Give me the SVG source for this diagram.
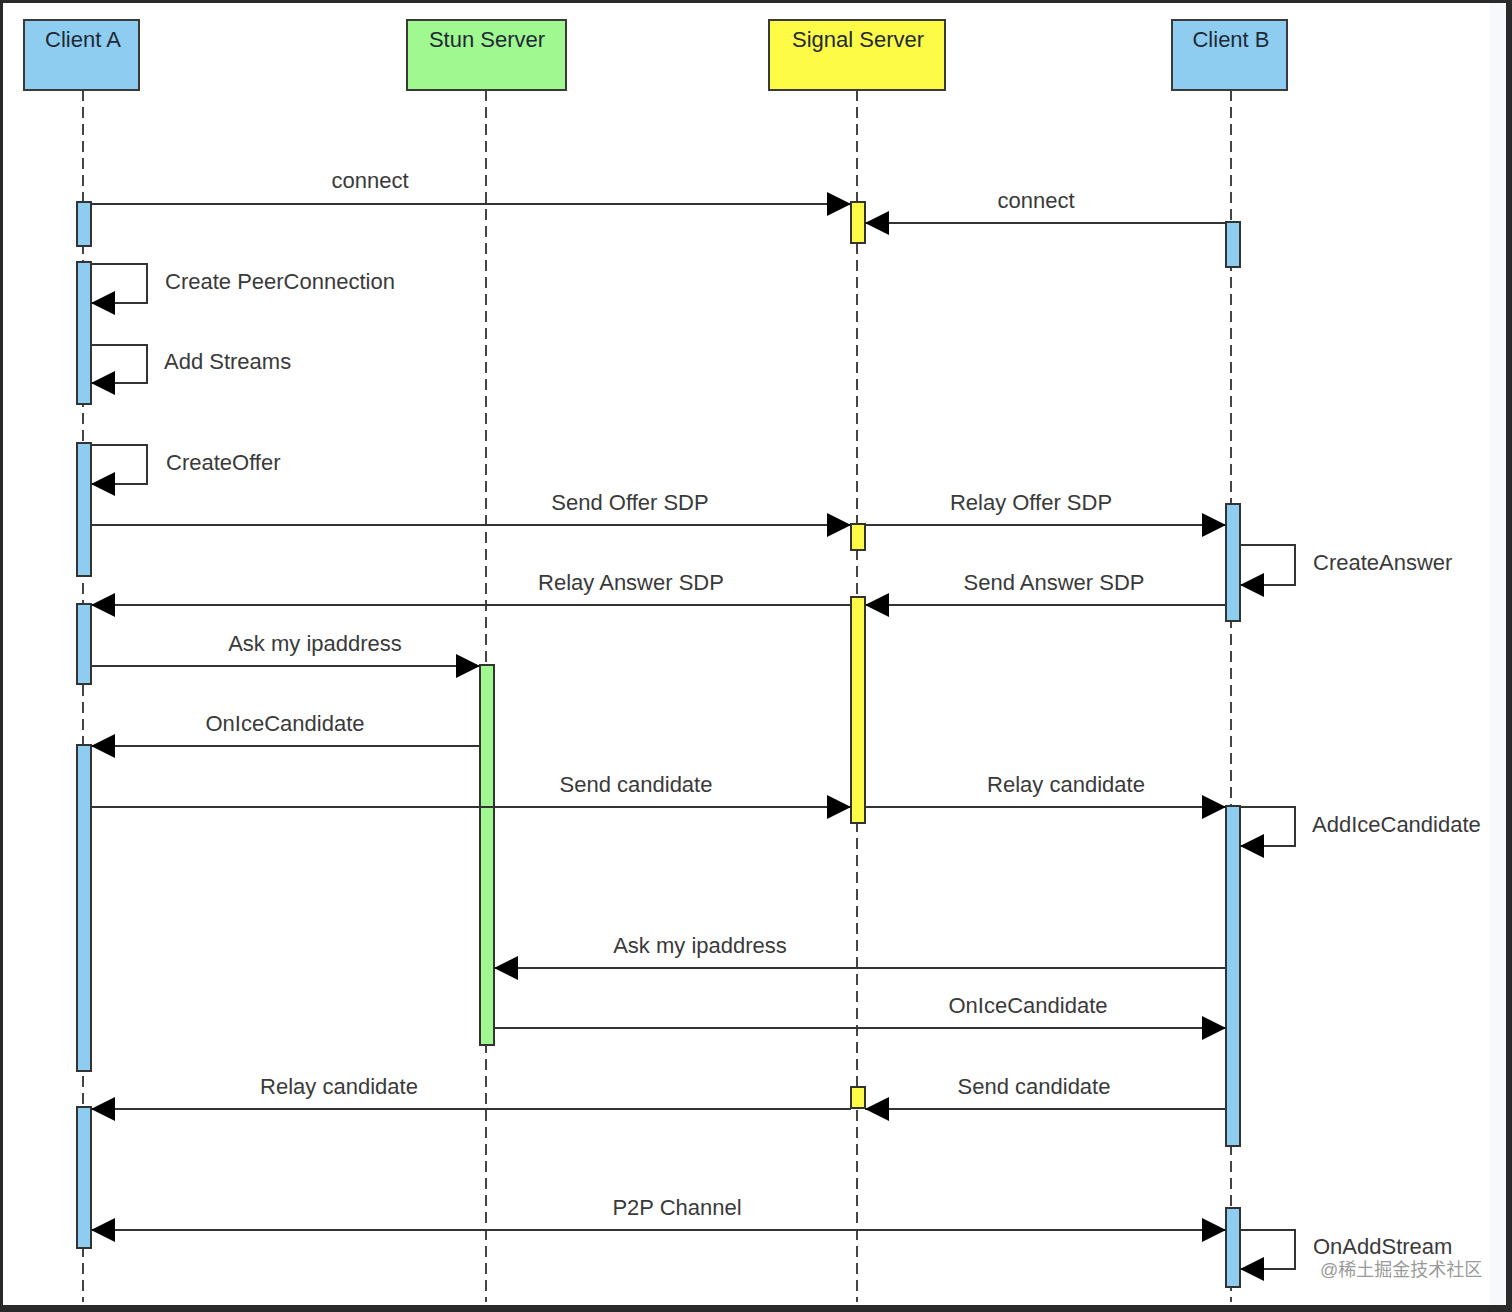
<svg xmlns="http://www.w3.org/2000/svg" width="1512" height="1312" viewBox="0 0 1512 1312">
<style>
.hdr{stroke:#3a3a3a;stroke-width:2}
.blue{fill:#8ecdf0}
.green{fill:#a0f890}
.yellow{fill:#fdfb45}
.bar{stroke:#333;stroke-width:2}
.life{stroke:#444;stroke-width:2;stroke-dasharray:11 6;fill:none}
.msg{stroke:#333;stroke-width:2;fill:none;marker-end:url(#ah)}
.ht{font-family:"Liberation Sans",Arial,sans-serif;font-size:22px;fill:#1f2a36;text-anchor:middle}
.lb{font-family:"Liberation Sans",Arial,sans-serif;font-size:22px;fill:#3a3a3a}
.c{text-anchor:middle}
.wm{font-family:"Liberation Sans","Noto Sans CJK SC",sans-serif;font-size:18px;fill:#9a9a9a}
</style>
<defs>
<marker id="ah" markerUnits="userSpaceOnUse" markerWidth="24" markerHeight="24" viewBox="0 0 24 24" refX="24" refY="12" orient="auto-start-reverse">
<path d="M0,0 L24,12 L0,24 z" fill="#000"/>
</marker>
</defs>
<rect x="0" y="0" width="1512" height="1312" fill="#2a2a2a"/>
<rect x="3" y="3" width="1503" height="1302" fill="#ffffff"/>
<rect x="1490" y="3" width="16" height="1302" fill="#f6f8fb"/>

<g id="lifelines">
<line class="life" x1="83" y1="90" x2="83" y2="1302"/>
<line class="life" x1="486" y1="90" x2="486" y2="1302"/>
<line class="life" x1="857" y1="90" x2="857" y2="1302"/>
<line class="life" x1="1231" y1="90" x2="1231" y2="1302"/>
</g>

<g id="client-a">
<rect class="hdr blue" x="24" y="20" width="115" height="70"/>
<text class="ht" x="83" y="47">Client A</text>
</g>
<g id="stun-server">
<rect class="hdr green" x="407" y="20" width="159" height="70"/>
<text class="ht" x="487" y="47">Stun Server</text>
</g>
<g id="signal-server">
<rect class="hdr yellow" x="769" y="20" width="176" height="70"/>
<text class="ht" x="858" y="47">Signal Server</text>
</g>
<g id="client-b">
<rect class="hdr blue" x="1172" y="20" width="115" height="70"/>
<text class="ht" x="1231" y="47">Client B</text>
</g>

<g id="activations">
<rect class="bar blue" x="77" y="202" width="14" height="44"/>
<rect class="bar blue" x="77" y="262" width="14" height="142"/>
<rect class="bar blue" x="77" y="443" width="14" height="133"/>
<rect class="bar blue" x="77" y="604" width="14" height="80"/>
<rect class="bar blue" x="77" y="745" width="14" height="326"/>
<rect class="bar blue" x="77" y="1107" width="14" height="141"/>
<rect class="bar green" x="480" y="665" width="14" height="380"/>
<rect class="bar yellow" x="851" y="202" width="14" height="41"/>
<rect class="bar yellow" x="851" y="524" width="14" height="26"/>
<rect class="bar yellow" x="851" y="597" width="14" height="226"/>
<rect class="bar yellow" x="851" y="1087" width="14" height="21"/>
<rect class="bar blue" x="1226" y="222" width="14" height="45"/>
<rect class="bar blue" x="1226" y="504" width="14" height="117"/>
<rect class="bar blue" x="1226" y="806" width="14" height="340"/>
<rect class="bar blue" x="1226" y="1208" width="14" height="79"/>
</g>

<g id="connectors">
<path class="msg" d="M91,204 H851"/>
<path class="msg" d="M1226,223 H865"/>
<path class="msg" d="M91,264 H147 V303 H91"/>
<path class="msg" d="M91,345 H147 V383 H91"/>
<path class="msg" d="M91,445 H147 V484 H91"/>
<path class="msg" d="M91,525 H851"/>
<path class="msg" d="M865,525 H1226"/>
<path class="msg" d="M1240,545 H1295 V585 H1240"/>
<path class="msg" d="M1226,605 H865"/>
<path class="msg" d="M851,605 H91"/>
<path class="msg" d="M91,666 H480"/>
<path class="msg" d="M480,746 H91"/>
<path class="msg" d="M91,807 H851"/>
<path class="msg" d="M865,807 H1226"/>
<path class="msg" d="M1240,807 H1295 V846 H1240"/>
<path class="msg" d="M1226,968 H494"/>
<path class="msg" d="M494,1028 H1226"/>
<path class="msg" d="M1226,1109 H865"/>
<path class="msg" d="M851,1109 H91"/>
<path class="msg" d="M91,1230 H1226" marker-start="url(#ah)"/>
<path class="msg" d="M1240,1230 H1295 V1269 H1240"/>
</g>

<g id="labels">
<text class="lb c" x="370" y="188">connect</text>
<text class="lb c" x="1036" y="208">connect</text>
<text class="lb" x="165" y="289">Create PeerConnection</text>
<text class="lb" x="164" y="369">Add Streams</text>
<text class="lb" x="166" y="470">CreateOffer</text>
<text class="lb c" x="630" y="510">Send Offer SDP</text>
<text class="lb c" x="1031" y="510">Relay Offer SDP</text>
<text class="lb" x="1313" y="570">CreateAnswer</text>
<text class="lb c" x="631" y="590">Relay Answer SDP</text>
<text class="lb c" x="1054" y="590">Send Answer SDP</text>
<text class="lb c" x="315" y="651">Ask my ipaddress</text>
<text class="lb c" x="285" y="731">OnIceCandidate</text>
<text class="lb c" x="636" y="792">Send candidate</text>
<text class="lb c" x="1066" y="792">Relay candidate</text>
<text class="lb" x="1312" y="832">AddIceCandidate</text>
<text class="lb c" x="700" y="953">Ask my ipaddress</text>
<text class="lb c" x="1028" y="1013">OnIceCandidate</text>
<text class="lb c" x="1034" y="1094">Send candidate</text>
<text class="lb c" x="339" y="1094">Relay candidate</text>
<text class="lb c" x="677" y="1215">P2P Channel</text>
<text class="lb" x="1313" y="1254">OnAddStream</text>
<text class="wm" x="1320" y="1276">@稀土掘金技术社区</text>
</g>
</svg>
